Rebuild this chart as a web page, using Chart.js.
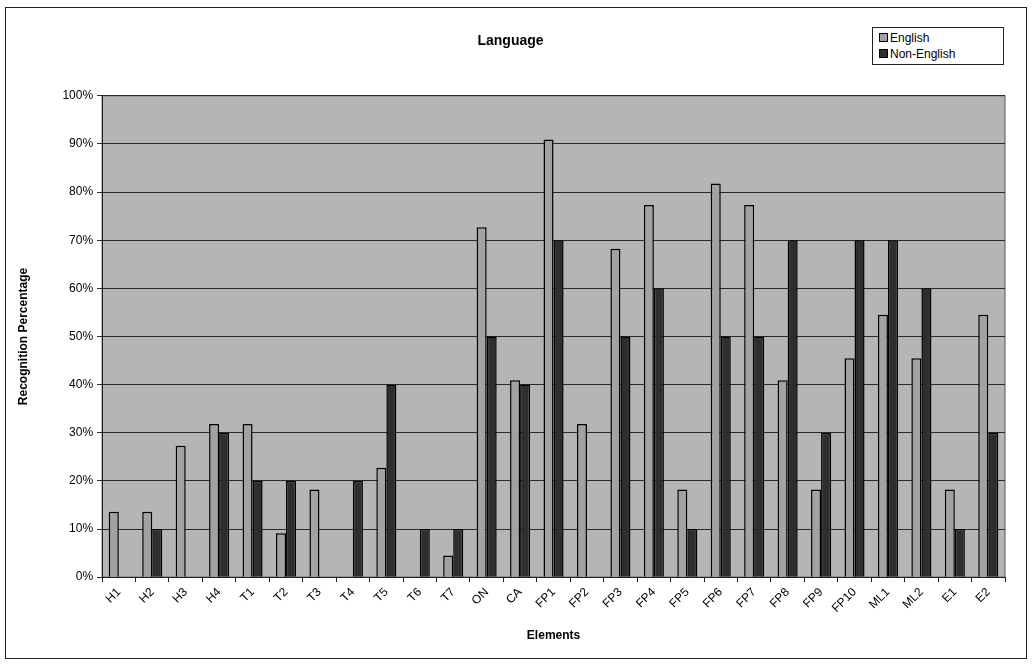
<!DOCTYPE html>
<html>
<head>
<meta charset="utf-8">
<script src="https://cdn.jsdelivr.net/npm/chart.js@4"></script>
<style>
  body { margin: 0; background: #fff; }
  #wrap { position: relative; width: 1035px; height: 668px; }
  #frame { position: absolute; left: 5px; top: 7px; width: 1022px; height: 652px; border: 1.5px solid #222; box-sizing: border-box; }
  #legend { position: absolute; left: 872px; top: 27px; width: 132px; height: 38px; border: 1px solid #222; background: #fff;
            font: 12px "Liberation Sans", Arial, sans-serif; color: #000; box-sizing: border-box; padding: 2px 0 0 6px; }
  #legend div { height: 16px; line-height: 16px; }
  #legend span { display: inline-block; width: 7px; height: 7px; border: 1px solid #000; margin-right: 2px; vertical-align: 0px; }
</style>
</head>
<body>
<div id="wrap">
  <canvas id="myChart" width="1035" height="668"></canvas>
  <div id="frame"></div>
  <div id="legend">
    <div><span style="background:#a2a2a2"></span>English</div>
    <div><span style="background:#2e2e2e"></span>Non-English</div>
  </div>
</div>
<script>
let xValues = ["H1", "H2", "H3", "H4", "T1", "T2", "T3", "T4", "T5", "T6", "T7", "ON", "CA",
               "FP1", "FP2", "FP3", "FP4", "FP5", "FP6", "FP7", "FP8", "FP9", "FP10", "ML1", "ML2", "E1", "E2"];
let english = [13.6, 13.6, 27.3, 31.8, 31.8, 9.1, 18.2, 0, 22.7, 0, 4.5, 72.7, 40.9,
               90.9, 31.8, 68.2, 77.3, 18.2, 81.8, 77.3, 40.9, 18.2, 45.5, 54.5, 45.5, 18.2, 54.5];
let nonEnglish = [0, 10, 0, 30, 20, 20, 0, 20, 40, 10, 10, 50, 40,
                  70, 0, 50, 60, 10, 50, 50, 70, 30, 70, 70, 60, 10, 30];
let seriesNames = ["English", "Non-English"];
let barColors = ["#a2a2a2", "#2e2e2e"];

// grey plot area like the old excel chart
const plotBg = {
    id: "plotBg",
    beforeDraw(chart) {
        const a = chart.chartArea, ctx = chart.ctx;
        ctx.save();
        ctx.fillStyle = "#b5b5b5";
        ctx.fillRect(a.left, a.top, a.right - a.left, a.bottom - a.top);
        ctx.strokeStyle = "#555";
        ctx.lineWidth = 1;
        ctx.strokeRect(a.left, a.top, a.right - a.left, a.bottom - a.top);
        ctx.restore();
    }
};

new Chart("myChart", {
    type: "bar",
    data: {
        labels: xValues,
        datasets: [{
            label: seriesNames[0],
            backgroundColor: barColors[0],
            borderColor: "#000",
            borderWidth: 1.5,
            data: english
        }, {
            label: seriesNames[1],
            backgroundColor: barColors[1],
            borderColor: "#000",
            borderWidth: 1.5,
            data: nonEnglish
        }]
    },
    options: {
        responsive: false,
        animation: false,
        categoryPercentage: 0.6,
        barPercentage: 1.0,
        layout: { padding: { left: 16, right: 30, top: 25, bottom: 21 } },
        plugins: {
            legend: { display: false },
            tooltip: { enabled: false },
            title: {
                display: true,
                text: "Language",
                color: "#000",
                font: { family: "Liberation Sans", size: 14, weight: "bold" },
                padding: { top: 8, bottom: 46 }
            }
        },
        scales: {
            x: {
                grid: { display: true, drawOnChartArea: false, drawTicks: true, tickLength: 5, color: "#222", offset: true },
                border: { color: "#222" },
                ticks: {
                    color: "#000", maxRotation: 45, minRotation: 45, autoSkip: false,
                    font: { family: "Liberation Sans", size: 12 }
                },
                title: {
                    display: true, text: "Elements", color: "#000",
                    font: { family: "Liberation Sans", size: 12, weight: "bold" },
                    padding: { top: 10 }
                }
            },
            y: {
                min: 0, max: 100,
                ticks: {
                    stepSize: 10, color: "#000", padding: 4,
                    font: { family: "Liberation Sans", size: 12 },
                    callback: v => v + "%"
                },
                grid: { color: "#2a2a2a", lineWidth: 1, tickLength: 5 },
                border: { color: "#222" },
                title: {
                    display: true, text: "Recognition Percentage", color: "#000",
                    font: { family: "Liberation Sans", size: 12, weight: "bold" },
                    padding: { top: 0, bottom: 28 }
                }
            }
        }
    },
    plugins: [plotBg]
});
</script>
</body>
</html>
